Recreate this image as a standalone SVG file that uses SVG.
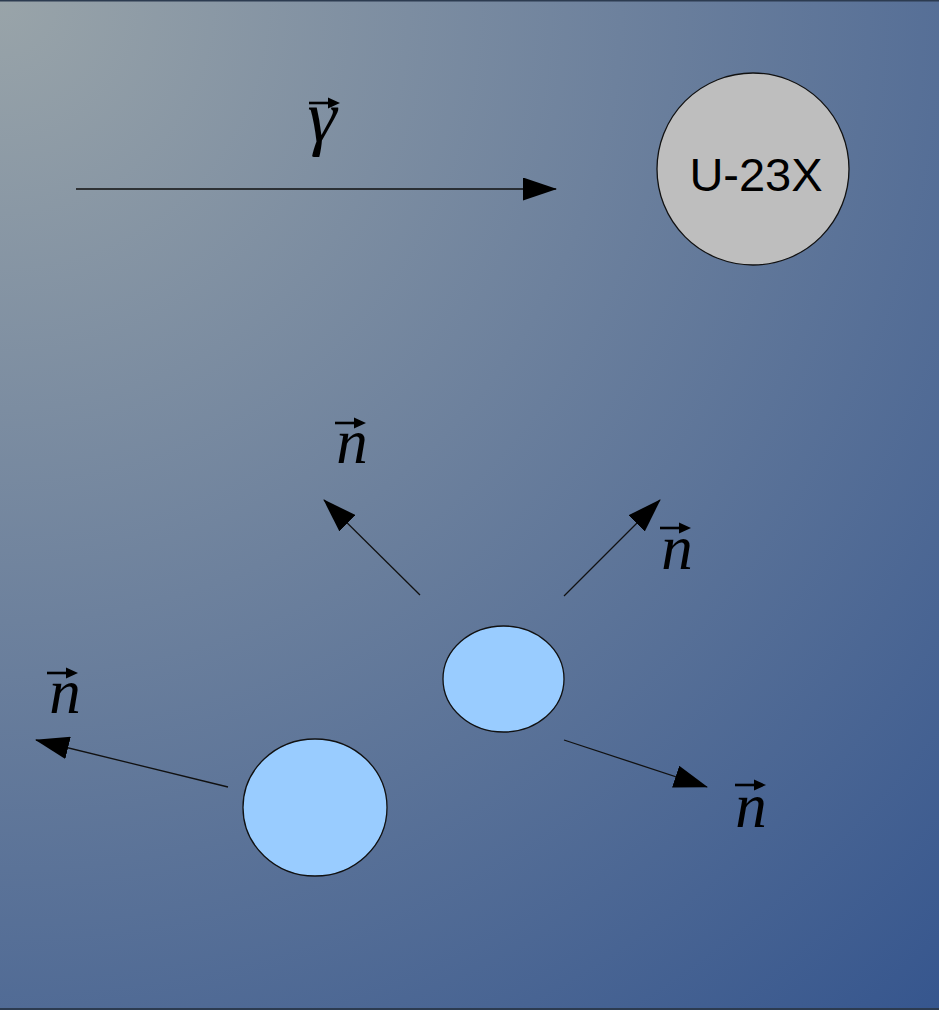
<svg xmlns="http://www.w3.org/2000/svg" xmlns:xlink="http://www.w3.org/1999/xlink" width="939" height="1010" viewBox="0 0 939 1010">
<style>
.conn{stroke:#111;stroke-width:1.3;fill:none;marker-end:url(#head)}
.lbl{font-family:"Liberation Serif","Times New Roman",serif;font-style:italic;font-size:63px;fill:#000;text-anchor:middle}
.blob{fill:#99ccff;stroke:#111;stroke-width:1.3}
</style>
<defs>
<radialGradient id="bg" gradientUnits="userSpaceOnUse" cx="0" cy="0" r="1380">
<stop offset="0" stop-color="#99a4a9"/>
<stop offset="0.45" stop-color="#6d819d"/>
<stop offset="1" stop-color="#36568e"/>
</radialGradient>
<marker id="head" viewBox="0 0 34 23" refX="33" refY="11.5" markerWidth="34" markerHeight="23" markerUnits="userSpaceOnUse" orient="auto">
<path d="M0,0 L34,11.5 L0,23 z" fill="#000"/>
</marker>
<g id="vec">
<path d="M0,0 H22" stroke="#000" stroke-width="2.6"/>
<path d="M19,-5.5 L31,0 L19,5.5 z" fill="#000"/>
</g>
</defs>
<rect x="0" y="0" width="939" height="1010" fill="url(#bg)"/>
<rect x="0" y="0" width="939" height="1.5" fill="#2c3b50"/>
<rect x="0" y="1008" width="939" height="2" fill="#2c3b50"/>
<g id="connectors">
<path class="conn" d="M76,189 L556,189"/>
<path class="conn" d="M420,595 L324,500"/>
<path class="conn" d="M564,596 L660,500"/>
<path class="conn" d="M228,787 L36,740"/>
<path class="conn" d="M564,740 L707,787"/>
</g>
<g id="u23x">
<circle cx="753" cy="169" r="96" fill="#bebebe" stroke="#111" stroke-width="1.3"/>
<text x="756" y="191" font-family="Liberation Sans, Arial, sans-serif" font-size="47" text-anchor="middle" fill="#000">U-23X</text>
</g>
<g id="particle1">
<ellipse class="blob" cx="503.5" cy="679" rx="60.5" ry="53"/>
</g>
<g id="particle2">
<ellipse class="blob" cx="315" cy="807.5" rx="72" ry="68.5"/>
</g>
<g id="label-gamma">
<use xlink:href="#vec" x="309" y="103"/>
<text class="lbl" x="322" y="141" style="font-size:74px">γ</text>
</g>
<g id="label-n1">
<use xlink:href="#vec" x="335" y="423"/>
<text class="lbl" x="352" y="463">n</text>
</g>
<g id="label-n2">
<use xlink:href="#vec" x="660" y="528"/>
<text class="lbl" x="677" y="569">n</text>
</g>
<g id="label-n3">
<use xlink:href="#vec" x="47" y="673"/>
<text class="lbl" x="65" y="713">n</text>
</g>
<g id="label-n4">
<use xlink:href="#vec" x="735" y="785"/>
<text class="lbl" x="751" y="827">n</text>
</g>
</svg>
